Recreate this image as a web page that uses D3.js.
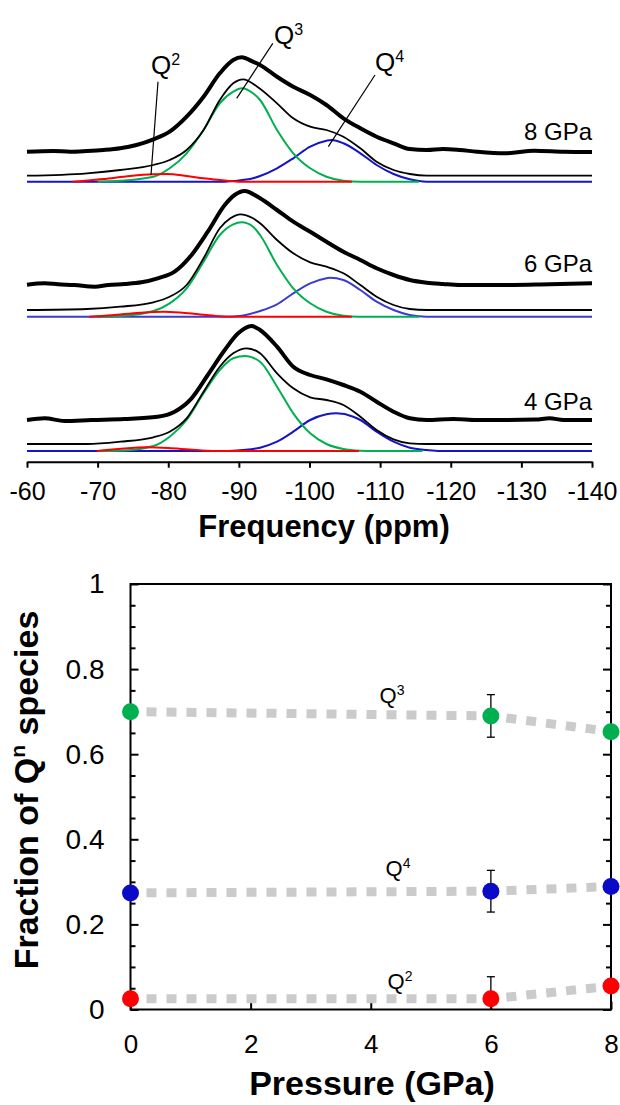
<!DOCTYPE html>
<html>
<head>
<meta charset="utf-8">
<script src="https://cdn.jsdelivr.net/npm/d3@7.9.0/dist/d3.min.js"></script>
<style>
  body { margin: 0; background: #fff; }
  svg { display: block; }
  text { font-family: "Liberation Sans", Arial, sans-serif; fill: #000; }
</style>
</head>
<body>
<svg id="chart" width="620" height="1105"></svg>
<script>
// ---------- top panel: NMR spectra (ppm, intensity above the fit baseline) ----------
const ppmTicks = [-60, -70, -80, -90, -100, -110, -120, -130, -140];
const pressureLabels = ['8 GPa', '6 GPa', '4 GPa'];

// 8 GPa
const exp8 = [[-60,0.30],[-63.7,0.307],[-66.1,0.30],[-68.5,0.307],[-70.8,0.317],[-73.2,0.334],[-75.5,0.367],[-77.9,0.424],[-80.2,0.50],[-82.6,0.65],[-85.0,0.85],[-87.3,1.084],[-89.2,1.217],[-90.4,1.244],[-92.0,1.20],[-93.0,1.167],[-95.4,1.05],[-97.7,0.95],[-100.1,0.867],[-102.4,0.767],[-104.8,0.634],[-107.2,0.534],[-109.5,0.45],[-111.9,0.384],[-114.2,0.327],[-116.6,0.317],[-118.9,0.327],[-121.3,0.317],[-123.7,0.30],[-127.7,0.284],[-131.8,0.31],[-136,0.30],[-140,0.297]];
const fit8 = [[-60,0.06],[-68.5,0.084],[-73.2,0.117],[-77.9,0.167],[-80.2,0.217],[-82.6,0.317],[-85.0,0.517],[-87.3,0.817],[-89.2,0.984],[-90.6,1.024],[-92.6,0.95],[-95.4,0.784],[-97.7,0.634],[-100.1,0.55],[-102.4,0.517],[-104.8,0.45],[-107.2,0.334],[-109.5,0.20],[-111.9,0.117],[-114.2,0.077],[-116.6,0.06],[-140,0.06]];
const q2_8 = [[-66.5,0],[-70.8,0.027],[-74.6,0.057],[-77.9,0.074],[-79.8,0.077],[-82.6,0.057],[-85.0,0.034],[-88.3,0.01],[-90,0],[-106,0]];
const q3_8 = [[-70,0],[-73.2,0.01],[-77.9,0.05],[-80.2,0.134],[-82.6,0.284],[-85.0,0.517],[-87.3,0.784],[-89.2,0.90],[-90.4,0.934],[-92.0,0.884],[-93.0,0.817],[-95.4,0.517],[-97.7,0.284],[-100.1,0.134],[-102.4,0.05],[-104.8,0.01],[-107.2,0],[-115.5,0]];
const q4_8 = [[-60,0],[-88,0],[-89.2,0.007],[-92.0,0.034],[-93.0,0.057],[-95.4,0.134],[-97.7,0.234],[-100.1,0.35],[-102.4,0.41],[-103.1,0.417],[-104.8,0.384],[-107.2,0.284],[-109.5,0.167],[-111.9,0.077],[-114.2,0.024],[-116.6,0],[-140,0]];

// 6 GPa
const exp6 = [[-60,0.32],[-62.5,0.334],[-64.4,0.324],[-66.7,0.317],[-69.6,0.30],[-71.5,0.317],[-73.8,0.327],[-76.2,0.344],[-78.5,0.384],[-80.9,0.45],[-83.3,0.617],[-85.6,0.85],[-88.0,1.117],[-89.4,1.217],[-90.8,1.257],[-93.0,1.184],[-95.4,1.067],[-97.7,0.95],[-100.1,0.85],[-102.4,0.75],[-104.8,0.65],[-107.2,0.567],[-109.5,0.484],[-111.9,0.417],[-114.2,0.367],[-116.6,0.34],[-118.9,0.327],[-121.3,0.317],[-127.7,0.317],[-134,0.325],[-140,0.334]];
const fit6 = [[-60,0.067],[-68.5,0.077],[-73.2,0.10],[-77.9,0.144],[-80.2,0.20],[-82.6,0.317],[-85.0,0.584],[-87.3,0.884],[-88.8,0.984],[-90.2,1.024],[-92.0,0.984],[-93.0,0.934],[-95.4,0.767],[-97.7,0.634],[-100.1,0.544],[-102.4,0.50],[-104.8,0.434],[-107.2,0.317],[-109.5,0.20],[-111.9,0.117],[-114.2,0.077],[-116.6,0.067],[-140,0.067]];
const q2_6 = [[-68.8,0],[-72,0.015],[-76,0.04],[-79.3,0.05],[-82,0.04],[-85,0.02],[-87.3,0.005],[-90,0],[-106,0]];
const q3_6 = [[-70,0],[-73.2,0.007],[-77.9,0.057],[-80.2,0.134],[-82.6,0.284],[-85.0,0.55],[-87.3,0.817],[-89.2,0.924],[-90.4,0.944],[-92.0,0.90],[-93.0,0.817],[-95.4,0.517],[-97.7,0.284],[-100.1,0.134],[-102.4,0.05],[-104.8,0.01],[-107,0],[-115.5,0]];
const q4_6 = [[-60,0],[-88,0],[-90.4,0.01],[-93.0,0.057],[-95.4,0.124],[-97.7,0.234],[-100.1,0.334],[-102.4,0.384],[-102.9,0.39],[-104.8,0.367],[-107.2,0.267],[-109.5,0.15],[-111.9,0.067],[-114.2,0.017],[-116.6,0],[-140,0]];

// 4 GPa
const exp4 = [[-60,0.31],[-62.5,0.327],[-65.3,0.30],[-69.1,0.31],[-73.8,0.32],[-78.5,0.343],[-80.9,0.393],[-83.3,0.527],[-85.6,0.76],[-88.0,1.01],[-89.9,1.177],[-91.8,1.25],[-93.0,1.21],[-95.4,1.043],[-97.7,0.843],[-100.1,0.76],[-102.4,0.717],[-104.8,0.66],[-107.2,0.593],[-109.5,0.493],[-111.9,0.393],[-114.2,0.327],[-116.6,0.31],[-120.4,0.32],[-123.7,0.31],[-127.7,0.31],[-132,0.315],[-134,0.327],[-136,0.31],[-140,0.31]];
const fit4 = [[-60,0.07],[-68.5,0.07],[-73.2,0.093],[-77.9,0.137],[-80.2,0.193],[-82.6,0.327],[-85.0,0.593],[-87.3,0.843],[-89.2,0.977],[-91.1,1.027],[-93.0,0.977],[-95.4,0.777],[-97.7,0.627],[-100.1,0.537],[-102.4,0.51],[-104.8,0.46],[-107.2,0.343],[-109.5,0.21],[-111.9,0.117],[-114.2,0.077],[-116.6,0.07],[-140,0.07]];
const q2_4 = [[-69.9,0],[-73,0.02],[-77,0.037],[-80,0.03],[-83,0.015],[-86.4,0],[-107,0]];
const q3_4 = [[-70,0],[-73.2,0.003],[-77.9,0.05],[-80.2,0.143],[-82.6,0.31],[-85.0,0.577],[-87.3,0.81],[-89.2,0.927],[-90.9,0.95],[-93.0,0.893],[-95.4,0.643],[-97.7,0.377],[-100.1,0.177],[-102.4,0.07],[-104.8,0.02],[-107.2,0.003],[-109,0],[-116,0]];
const q4_4 = [[-60,0],[-88,0],[-90.5,0.01],[-93.0,0.033],[-95.4,0.093],[-97.7,0.193],[-100.1,0.31],[-102.4,0.367],[-103.8,0.377],[-106.2,0.343],[-107.2,0.31],[-109.5,0.193],[-111.9,0.093],[-114.2,0.033],[-116.6,0.01],[-118.5,0],[-140,0]];

// ---------- bottom panel: fraction of Qn species ----------
const pressureGPa = [0, 6, 8];
const fracQ2 = [0.025, 0.025, 0.055];
const fracQ3 = [0.70, 0.69, 0.653];
const fracQ4 = [0.274, 0.278, 0.289];
const errQ2 = [0, 0.052, 0];
const errQ3 = [0, 0.05, 0];
const errQ4 = [0, 0.049, 0];
const gpaTicks = [0, 2, 4, 6, 8];
const fracTicks = [0, 0.2, 0.4, 0.6, 0.8, 1];
const fracMinorTicks = [0.05,0.1,0.15,0.25,0.3,0.35,0.45,0.5,0.55,0.65,0.7,0.75,0.85,0.9,0.95];

const svg = d3.select('#chart');
const RED = '#ff0000', GREEN = '#00b050', BLUE = '#1414c8';
const fontFam = '"Liberation Sans", Arial, sans-serif';

// ===== top panel =====
const x = d3.scaleLinear().domain([-60, -140]).range([27, 592]);
const panels = [
  { label: pressureLabels[0], base: 181.7, exp: exp8, fit: fit8, q2: q2_8, q3: q3_8, q4: q4_8, blue: BLUE, labelY: 140 },
  { label: pressureLabels[1], base: 316.7, exp: exp6, fit: fit6, q2: q2_6, q3: q3_6, q4: q4_6, blue: '#3c3cd2', labelY: 272 },
  { label: pressureLabels[2], base: 451,   exp: exp4, fit: fit4, q2: q2_4, q3: q3_4, q4: q4_4, blue: BLUE, labelY: 410 }
];

panels.forEach(p => {
  const y = d3.scaleLinear().domain([0, 1]).range([p.base, p.base - 100]);
  const line = d3.line().x(d => x(d[0])).y(d => y(d[1])).curve(d3.curveMonotoneX);
  const g = svg.append('g');
  g.append('path').attr('d', line(p.q4)).attr('fill', 'none').attr('stroke', p.blue).attr('stroke-width', 2);
  g.append('path').attr('d', line(p.q3)).attr('fill', 'none').attr('stroke', GREEN).attr('stroke-width', 2);
  g.append('path').attr('d', line(p.q2)).attr('fill', 'none').attr('stroke', RED).attr('stroke-width', 2);
  g.append('path').attr('d', line(p.fit)).attr('fill', 'none').attr('stroke', '#000').attr('stroke-width', 1.8);
  g.append('path').attr('d', line(p.exp)).attr('fill', 'none').attr('stroke', '#000').attr('stroke-width', 4)
    .attr('stroke-linejoin', 'round');
  g.append('text').attr('x', 592).attr('y', p.labelY).attr('text-anchor', 'end')
    .attr('font-size', 24).text(p.label);
});

// leader lines and Q labels on 8 GPa spectrum
const leaders = [
  { name: '2', tx: 151, ty: 74, x1: 158, y1: 81.7, x2: 151, y2: 175 },
  { name: '3', tx: 274, ty: 44, x1: 272.8, y1: 43.3, x2: 236.7, y2: 98.3 },
  { name: '4', tx: 375, ty: 71, x1: 375, y1: 75, x2: 328.3, y2: 146.7 }
];
leaders.forEach(l => {
  svg.append('line').attr('x1', l.x1).attr('y1', l.y1).attr('x2', l.x2).attr('y2', l.y2)
    .attr('stroke', '#000').attr('stroke-width', 1.2);
  const t = svg.append('text').attr('x', l.tx).attr('y', l.ty).attr('font-size', 26).text('Q');
  t.append('tspan').attr('font-size', 16).attr('dy', -9).text(l.name);
});

const xAxisTop = d3.axisBottom(x).tickValues(ppmTicks).tickSize(6).tickSizeOuter(0).tickPadding(15)
  .tickFormat(d => String(d));
const gxTop = svg.append('g').attr('transform', 'translate(0,461.7)').call(xAxisTop);
gxTop.select('.domain').attr('stroke-width', 2);
gxTop.selectAll('.tick line').attr('stroke-width', 2);
gxTop.selectAll('text').attr('font-size', 25).attr('font-family', fontFam);

svg.append('text').attr('x', 324).attr('y', 537).attr('text-anchor', 'middle')
  .attr('font-size', 31).attr('font-weight', 'bold').text('Frequency (ppm)');

// ===== bottom panel =====
const bx = d3.scaleLinear().domain([0, 8]).range([130.5, 611]);
const by = d3.scaleLinear().domain([0, 1]).range([1009.5, 584]);

const gy = svg.append('g').attr('transform', 'translate(130.5,0)')
  .call(d3.axisLeft(by).tickValues(fracTicks).tickSize(-8).tickSizeOuter(0).tickPadding(26).tickFormat(d => String(d)));
gy.selectAll('text').attr('font-size', 28).attr('font-family', fontFam);
gy.select('.domain').remove();
svg.append('g').attr('transform', 'translate(130.5,0)')
  .call(d3.axisLeft(by).tickValues(fracMinorTicks).tickSize(-5).tickFormat(''))
  .select('.domain').remove();
svg.append('g').attr('transform', 'translate(611,0)')
  .call(d3.axisRight(by).tickValues(fracTicks).tickSize(-8).tickFormat(''))
  .select('.domain').remove();
svg.append('g').attr('transform', 'translate(611,0)')
  .call(d3.axisRight(by).tickValues(fracMinorTicks).tickSize(-5).tickFormat(''))
  .select('.domain').remove();
const gxb = svg.append('g').attr('transform', 'translate(0,1009.5)')
  .call(d3.axisBottom(bx).tickValues(gpaTicks).tickSize(-8).tickSizeOuter(0).tickPadding(25));
gxb.selectAll('text').attr('font-size', 26).attr('font-family', fontFam);
gxb.select('.domain').remove();
svg.selectAll('.tick line').attr('stroke-width', 2);

svg.append('rect').attr('x', 130.5).attr('y', 584).attr('width', 480.5).attr('height', 425.5)
  .attr('fill', 'none').attr('stroke', '#000').attr('stroke-width', 2);

const series = [
  { vals: fracQ3, err: errQ3, color: GREEN },
  { vals: fracQ4, err: errQ4, color: '#0a0ac8' },
  { vals: fracQ2, err: errQ2, color: RED }
];
const pline = d3.line().x((d, i) => bx(pressureGPa[i])).y(d => by(d));
series.forEach(s => {
  svg.append('path').attr('d', pline(s.vals)).attr('fill', 'none').attr('stroke', '#cbcbcb')
    .attr('stroke-width', 9).attr('stroke-dasharray', '10,10').attr('stroke-dashoffset', 4);
});
series.forEach(s => {
  s.vals.forEach((v, i) => {
    if (!s.err[i]) return;
    const cx = bx(pressureGPa[i]);
    const hi = by(v + s.err[i]), lo = by(Math.max(0, v - s.err[i]));
    svg.append('line').attr('x1', cx).attr('x2', cx).attr('y1', hi).attr('y2', lo).attr('stroke', '#000').attr('stroke-width', 1.3);
    svg.append('line').attr('x1', cx - 4).attr('x2', cx + 4).attr('y1', hi).attr('y2', hi).attr('stroke', '#000').attr('stroke-width', 1.3);
    if (v - s.err[i] > 0)
      svg.append('line').attr('x1', cx - 4).attr('x2', cx + 4).attr('y1', lo).attr('y2', lo).attr('stroke', '#000').attr('stroke-width', 1.3);
  });
});
series.forEach(s => {
  svg.selectAll(null).data(s.vals).enter().append('circle')
    .attr('cx', (d, i) => bx(pressureGPa[i])).attr('cy', d => by(d)).attr('r', 8.5).attr('fill', s.color);
});

const qLabels = [
  { name: '3', x: 379.6, y: 703 },
  { name: '4', x: 385.5, y: 876 },
  { name: '2', x: 387.5, y: 989 }
];
qLabels.forEach(q => {
  const t = svg.append('text').attr('x', q.x).attr('y', q.y).attr('font-size', 22).text('Q');
  t.append('tspan').attr('font-size', 14).attr('dy', -8).text(q.name);
});

svg.append('text').attr('x', 372).attr('y', 1095).attr('text-anchor', 'middle')
  .attr('font-size', 34).attr('font-weight', 'bold').text('Pressure (GPa)');

const yt = svg.append('text').attr('transform', 'translate(38,790) rotate(-90)').attr('text-anchor', 'middle')
  .attr('font-size', 34).attr('font-weight', 'bold');
yt.append('tspan').text('Fraction of Q');
yt.append('tspan').attr('font-size', 21).attr('dy', -13).text('n');
yt.append('tspan').attr('dy', 13).text(' species');
</script>
</body>
</html>
